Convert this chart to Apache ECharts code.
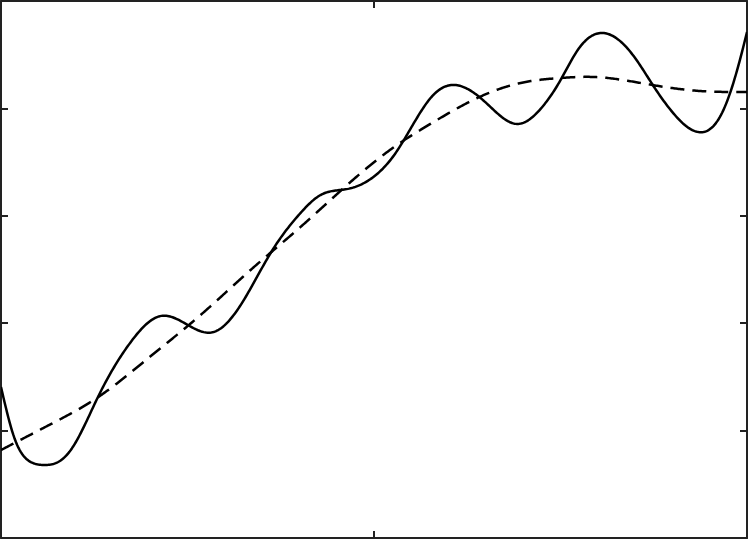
<!DOCTYPE html>
<html>
<head>
<meta charset="utf-8">
<script src="https://cdn.jsdelivr.net/npm/echarts@6/dist/echarts.min.js"></script>
<style>html,body{margin:0;padding:0;background:#fff}#c{width:748px;height:542px}</style>
</head>
<body>
<div id="c"></div>
<script>
const signalX = [0,0.035,0.080,0.118,0.153,0.187,0.260,0.348,0.428,0.501,0.570,0.651,0.723,0.803,0.857,0.929,0.991,1.058,1.159,1.210,1.301,1.384,1.451,1.494,1.550,1.614,1.700,1.751,1.802,1.869,1.933,1.981,2.000];
const signalY = [1.406,0.940,0.707,0.680,0.707,0.819,1.313,1.825,2.067,1.983,1.918,2.216,2.654,3.026,3.194,3.250,3.343,3.585,4.125,4.218,4.050,3.855,4.013,4.227,4.562,4.702,4.469,4.199,3.957,3.780,3.957,4.451,4.711];
const trendX = [0,0.134,0.257,0.402,0.535,0.669,0.803,0.910,1.050,1.151,1.277,1.392,1.499,1.593,1.746,1.874,2.000];
const trendY = [0.819,1.061,1.304,1.695,2.076,2.495,2.896,3.231,3.631,3.855,4.097,4.236,4.283,4.292,4.218,4.162,4.153];

// natural cubic spline through the read points (used only for drawing a smooth path)
function makeSpline(xs, ys){
  const n = xs.length, h = [], a = [], b = [], c = [], d = [], M = new Array(n).fill(0);
  for (let i = 0; i < n-1; i++) h[i] = xs[i+1]-xs[i];
  const m = n-2;
  if (m > 0){
    for (let i = 1; i <= m; i++){
      a[i] = h[i-1]; b[i] = 2*(h[i-1]+h[i]); c[i] = h[i];
      d[i] = 6*((ys[i+1]-ys[i])/h[i] - (ys[i]-ys[i-1])/h[i-1]);
    }
    for (let i = 2; i <= m; i++){ const w = a[i]/b[i-1]; b[i] -= w*c[i-1]; d[i] -= w*d[i-1]; }
    M[m] = d[m]/b[m];
    for (let i = m-1; i >= 1; i--) M[i] = (d[i]-c[i]*M[i+1])/b[i];
  }
  return function(x){
    let i = 0; while (i < n-2 && x > xs[i+1]) i++;
    const t1 = xs[i+1]-x, t0 = x-xs[i], hi = h[i];
    return M[i]*t1*t1*t1/(6*hi) + M[i+1]*t0*t0*t0/(6*hi)
      + (ys[i]/hi - M[i]*hi/6)*t1 + (ys[i+1]/hi - M[i+1]*hi/6)*t0;
  };
}

const frame = '#222';
function axisCommon(extra){
  return Object.assign({
    type:'value',
    axisLine:{show:true,onZero:false,lineStyle:{color:frame,width:2}},
    axisTick:{show:true,inside:true,length:7,lineStyle:{color:frame,width:2}},
    axisLabel:{show:false},
    splitLine:{show:false}
  }, extra);
}
function splineSeries(xs, ys, lineDash){
  const f = makeSpline(xs, ys);
  return {type:'custom',xAxisIndex:0,yAxisIndex:0,clip:true,
    data:[[xs[0],ys[0]]],
    renderItem:function(params, api){
      const pts = [], N = 600, x0 = xs[0], x1 = xs[xs.length-1];
      for (let k = 0; k <= N; k++){ const x = x0 + (x1-x0)*k/N; pts.push(api.coord([x, f(x)])); }
      return {type:'polyline',shape:{points:pts},
              style:{stroke:'#000',lineWidth:2.5,fill:null,lineJoin:'round',lineDash:lineDash}};
    }};
}
const chart = echarts.init(document.getElementById('c'), null, {renderer:'canvas'});
chart.setOption({
  animation:false,
  grid:{left:1,right:1,top:1,bottom:4},
  xAxis:[
    axisCommon({position:'bottom',min:0,max:2,interval:1}),
    axisCommon({position:'top',min:0,max:2,interval:1})
  ],
  yAxis:[
    axisCommon({position:'left',min:0,max:5,interval:1}),
    axisCommon({position:'right',min:0,max:5,interval:1})
  ],
  series:[
    splineSeries(trendX, trendY, [14,8]),
    splineSeries(signalX, signalY, null)
  ]
});
</script>
</body>
</html>
